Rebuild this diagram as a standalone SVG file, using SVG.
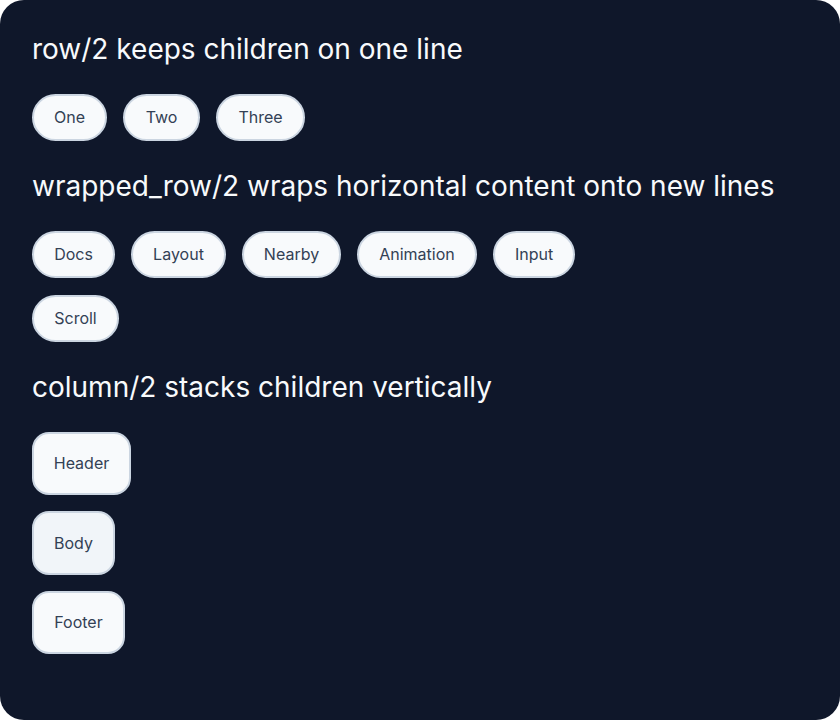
<svg xmlns="http://www.w3.org/2000/svg" width="840" height="720" viewBox="0 0 840 720">
<style>
.h{font-family:Inter,"Liberation Sans",sans-serif;font-size:28px;fill:#f8fafc}
.p rect{fill:#f8fafc;stroke:#cbd5e1;stroke-width:2}
.p text{font-family:Inter,"Liberation Sans",sans-serif;font-size:16px;fill:#334155;text-anchor:middle;dominant-baseline:central}
</style>
<rect x="0" y="0" width="840" height="720" fill="#ffffff"/>
<rect x="0" y="0" width="840" height="720" rx="24" fill="#0f172a"/>
<text class="h" x="32" y="59">row/2 keeps children on one line</text>
<text class="h" x="32" y="196">wrapped_row/2 wraps horizontal content onto new lines</text>
<text class="h" x="32" y="397">column/2 stacks children vertically</text>
<g id="one" class="p"><rect x="33" y="95" width="73" height="45" rx="22.5"/><text x="69.5" y="117">One</text></g>
<g id="two" class="p"><rect x="124" y="95" width="75" height="45" rx="22.5"/><text x="161.5" y="117">Two</text></g>
<g id="three" class="p"><rect x="217" y="95" width="87" height="45" rx="22.5"/><text x="260.5" y="117">Three</text></g>
<g id="docs" class="p"><rect x="33" y="232" width="81" height="45" rx="22.5"/><text x="73.5" y="254">Docs</text></g>
<g id="layout" class="p"><rect x="132" y="232" width="93" height="45" rx="22.5"/><text x="178.5" y="254">Layout</text></g>
<g id="nearby" class="p"><rect x="243" y="232" width="97" height="45" rx="22.5"/><text x="291.5" y="254">Nearby</text></g>
<g id="animation" class="p"><rect x="358" y="232" width="118" height="45" rx="22.5"/><text x="417" y="254">Animation</text></g>
<g id="input" class="p"><rect x="494" y="232" width="80" height="45" rx="22.5"/><text x="534" y="254">Input</text></g>
<g id="scroll" class="p"><rect x="33" y="296" width="85" height="45" rx="22.5"/><text x="75.5" y="318">Scroll</text></g>
<g id="header" class="p"><rect x="33" y="433" width="97" height="61" rx="16"/><text x="81.5" y="463">Header</text></g>
<g id="body" class="p"><rect x="33" y="512" width="81" height="62" rx="16" style="fill:#f1f5f9"/><text x="73.5" y="542.5">Body</text></g>
<g id="footer" class="p"><rect x="33" y="592" width="91" height="61" rx="16"/><text x="78.5" y="622">Footer</text></g>
<g id="connectors"/>
</svg>
